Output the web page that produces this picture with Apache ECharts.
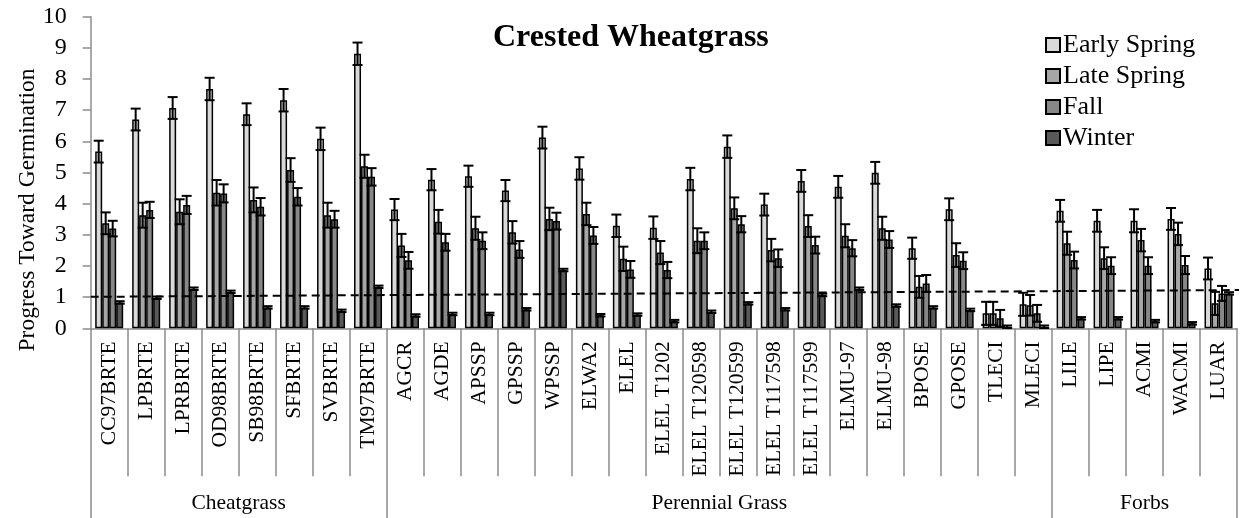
<!DOCTYPE html>
<html>
<head>
<meta charset="utf-8">
<script src="https://cdn.jsdelivr.net/npm/echarts@6/dist/echarts.min.js"></script>
<style>
    html, body { margin: 0; padding: 0; background: #fff; }
    #chart { width: 1251px; height: 518px; }
</style>
</head>
<body>
<div id="chart"></div>
<script>
var categories = ['CC97BRTE', 'LPBRTE', 'LPRBRTE', 'OD98BRTE', 'SB98BRTE', 'SFBRTE', 'SVBRTE', 'TM97BRTE',
    'AGCR', 'AGDE', 'APSSP', 'GPSSP', 'WPSSP', 'ELWA2', 'ELEL', 'ELEL T1202', 'ELEL T120598', 'ELEL T120599',
    'ELEL T117598', 'ELEL T117599', 'ELMU-97', 'ELMU-98', 'BPOSE', 'GPOSE', 'TLECI', 'MLECI',
    'LILE', 'LIPE', 'ACMI', 'WACMI', 'LUAR'];

var seriesNames = ['Early Spring', 'Late Spring', 'Fall', 'Winter'];

var earlySpring = [5.67, 6.70, 7.07, 7.68, 6.87, 7.32, 6.08, 8.81,
    3.81, 4.77, 4.88, 4.42, 6.12, 5.13, 3.29, 3.23, 4.79, 5.83, 3.97, 4.73, 4.54, 4.99, 2.57, 3.82, 0.48, 0.77,
    3.77, 3.45, 3.45, 3.51, 1.92];
var earlySpringErr = [0.35, 0.35, 0.35, 0.36, 0.35, 0.36, 0.36, 0.36,
    0.34, 0.34, 0.34, 0.34, 0.35, 0.36, 0.36, 0.36, 0.36, 0.36, 0.35, 0.35, 0.35, 0.35, 0.34, 0.35, 0.37, 0.37,
    0.35, 0.35, 0.37, 0.35, 0.35];

var lateSpring = [3.37, 3.63, 3.74, 4.35, 4.12, 5.08, 3.63, 5.20,
    2.66, 3.42, 3.21, 3.08, 3.51, 3.67, 2.23, 2.43, 2.81, 3.85, 2.51, 3.28, 2.97, 3.21, 1.33, 2.35, 0.48, 0.74,
    2.73, 2.25, 2.83, 3.03, 0.80];
var lateSpringErr = [0.35, 0.40, 0.40, 0.41, 0.40, 0.38, 0.40, 0.37,
    0.37, 0.38, 0.37, 0.36, 0.36, 0.36, 0.39, 0.37, 0.40, 0.35, 0.36, 0.35, 0.37, 0.37, 0.35, 0.38, 0.37, 0.33,
    0.37, 0.35, 0.36, 0.36, 0.37];

var fall = [3.20, 3.80, 3.96, 4.33, 3.90, 4.22, 3.50, 4.86,
    2.18, 2.76, 2.81, 2.53, 3.44, 2.98, 1.89, 1.87, 2.81, 3.34, 2.25, 2.67, 2.57, 2.85, 1.44, 2.17, 0.32, 0.48,
    2.19, 2.01, 2.01, 2.03, 1.12];
var fallErr = [0.25, 0.26, 0.29, 0.29, 0.28, 0.28, 0.27, 0.28,
    0.27, 0.27, 0.27, 0.27, 0.27, 0.27, 0.27, 0.26, 0.27, 0.26, 0.28, 0.27, 0.26, 0.27, 0.27, 0.27, 0.27, 0.27,
    0.27, 0.27, 0.27, 0.29, 0.24];

var winter = [0.83, 0.98, 1.27, 1.17, 0.67, 0.67, 0.56, 1.33,
    0.41, 0.46, 0.46, 0.61, 1.87, 0.42, 0.44, 0.23, 0.53, 0.80, 0.61, 1.07, 1.27, 0.73, 0.67, 0.59, 0.05, 0.05,
    0.32, 0.32, 0.23, 0.16, 1.12];
var winterErr = [0.04, 0.04, 0.04, 0.04, 0.04, 0.04, 0.04, 0.04,
    0.04, 0.04, 0.04, 0.04, 0.04, 0.04, 0.04, 0.04, 0.04, 0.04, 0.04, 0.04, 0.04, 0.04, 0.04, 0.04, 0.04, 0.04,
    0.04, 0.04, 0.04, 0.04, 0.04];

// groups along the bottom: boundaries and label centres (in category units)
var groupNames = ['Cheatgrass', 'Perennial Grass', 'Forbs'];
var groupBounds = [0, 8, 26, 31];
var groupCenters = [4, 17, 28.5];

// dashed reference line, ends
var trendLine = [[0, 1.01], [31.38, 1.23]];

var yTicks = { min: 0, max: 10, interval: 1 };

(function () {
    var font = 'Liberation Serif, Times New Roman, serif';
    var colors = ['#d9d9d9', '#a6a6a6', '#878787', '#595959'];
    var means = [earlySpring, lateSpring, fall, winter];
    var errs = [earlySpringErr, lateSpringErr, fallErr, winterErr];
    var barWidth = 7;

    var series = [];
    means.forEach(function (arr, k) {
        series.push({
            name: seriesNames[k],
            type: 'bar',
            barWidth: barWidth,
            barGap: '0%',
            itemStyle: { color: colors[k], borderColor: '#000', borderWidth: 1.5 },
            data: arr,
            z: 2
        });
    });
    means.forEach(function (arr, k) {
        var offset = (k - 1.5) * barWidth;
        series.push({
            name: seriesNames[k] + ' error',
            type: 'custom',
            z: 3,
            renderItem: function (params, api) {
                var x = api.value(0), m = api.value(1), e = api.value(2);
                var top = api.coord([x, m + e]);
                var bot = api.coord([x, Math.max(0, m - e)]);
                var cx = top[0] + offset;
                var hw = 5;
                var st = { stroke: '#000', lineWidth: 2 };
                return {
                    type: 'group',
                    children: [
                        { type: 'line', shape: { x1: cx, y1: top[1], x2: cx, y2: bot[1] }, style: st },
                        { type: 'line', shape: { x1: cx - hw, y1: top[1], x2: cx + hw, y2: top[1] }, style: st },
                        { type: 'line', shape: { x1: cx - hw, y1: bot[1], x2: cx + hw, y2: bot[1] }, style: st }
                    ]
                };
            },
            data: arr.map(function (v, i) { return [i, v, errs[k][i]]; })
        });
    });
    series.push({
        name: 'reference',
        type: 'line',
        xAxisIndex: 1,
        symbol: 'none',
        clip: false,
        silent: true,
        z: 4,
        lineStyle: { color: '#000', width: 2, type: [8, 5] },
        data: trendLine
    });

    var option = {
        animation: false,
        textStyle: { fontFamily: font },
        title: {
            text: 'Crested Wheatgrass',
            left: 493,
            top: 22,
            padding: 0,
            textStyle: { fontFamily: font, fontWeight: 'bold', fontSize: 32, color: '#000' }
        },
        legend: {
            data: seriesNames,
            orient: 'vertical',
            left: 1045,
            top: 32,
            padding: 0,
            itemGap: 5,
            itemWidth: 14,
            itemHeight: 14,
            icon: 'rect',
            textStyle: { fontFamily: font, fontSize: 26, color: '#000', padding: [0, 0, 0, -2] }
        },
        grid: {
            left: 90.7,
            right: 14,
            top: 16.7,
            bottom: 189.7,
            containLabel: false,
            outerBoundsMode: 'none'
        },
        xAxis: [{
            type: 'category',
            data: categories,
            axisLine: { lineStyle: { color: '#8c8c8c', width: 1.5 } },
            axisTick: { show: true, interval: 0, length: 148, lineStyle: { color: '#8c8c8c', width: 1.5 } },
            axisLabel: { interval: 0, rotate: 90, margin: 13, fontFamily: font, fontSize: 21.5, color: '#000' },
            splitLine: { show: false }
        }, {
            type: 'value',
            min: 0,
            max: categories.length,
            position: 'bottom',
            axisLine: { show: false },
            splitLine: { show: false },
            axisTick: { show: true, customValues: groupBounds, length: 195, lineStyle: { color: '#8c8c8c', width: 1.5 } },
            axisLabel: {
                customValues: groupCenters,
                margin: 164,
                fontFamily: font,
                fontSize: 21.5,
                color: '#000',
                formatter: function (v) {
                    var i = groupCenters.indexOf(v);
                    return i >= 0 ? groupNames[i] : '';
                }
            }
        }],
        yAxis: {
            type: 'value',
            min: yTicks.min,
            max: yTicks.max,
            interval: yTicks.interval,
            axisLine: { show: true, lineStyle: { color: '#8c8c8c', width: 1.5 } },
            axisTick: { show: true, length: 8, lineStyle: { color: '#8c8c8c', width: 1.5 } },
            axisLabel: { margin: 24, fontFamily: font, fontSize: 24, color: '#000' },
            splitLine: { show: false }
        },
        graphic: [{
            type: 'text',
            x: 28,
            y: 210,
            rotation: Math.PI / 2,
            style: {
                text: 'Progress Toward Germination',
                font: '23.5px ' + font,
                fill: '#000',
                textAlign: 'center',
                textVerticalAlign: 'middle'
            }
        }],
        series: series
    };

    var myChart = echarts.init(document.getElementById('chart'));
    myChart.setOption(option);
})();
</script>
</body>
</html>
